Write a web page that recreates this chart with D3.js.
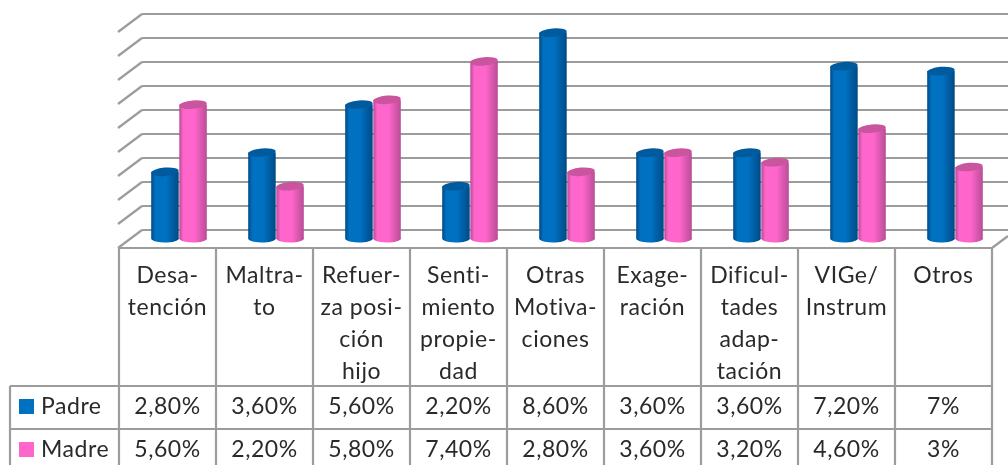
<!DOCTYPE html>
<html><head><meta charset="utf-8">
<script src="https://cdn.jsdelivr.net/npm/d3@7"></script>
<style>html,body{margin:0;padding:0;background:#fff;overflow:hidden}svg{display:block}text{font-family:Lato,"Open Sans",sans-serif;fill:#2a2a2a;letter-spacing:0.55px}</style>
</head><body><svg id="c" width="1008" height="465"></svg>
<script>
const categories=["Desa-|tención","Maltra-|to","Refuer-|za posi-|ción|hijo","Senti-|miento|propie-|dad","Otras|Motiva-|ciones","Exage-|ración","Dificul-|tades|adap-|tación","VIGe/|Instrum","Otros"];
const padre=[2.8,3.6,5.6,2.2,8.6,3.6,3.6,7.2,7];
const madre=[5.6,2.2,5.8,7.4,2.8,3.6,3.2,4.6,3];
const padreLabels=["2,80%","3,60%","5,60%","2,20%","8,60%","3,60%","3,60%","7,20%","7%"];
const madreLabels=["5,60%","2,20%","5,80%","7,40%","2,80%","3,60%","3,20%","4,60%","3%"];
const gridValues=[0,1,2,3,4,5,6,7,8,9];
const seriesNames=["Padre","Madre"];
const seriesColors=["#0070C0","#FF66CC"];
const seriesEdges=["#004a85","#b84c96"];
const seriesTops=["#005a9e","#c9549f"];

const svg=d3.select("#c");
const x=d3.scaleBand().domain(d3.range(categories.length)).range([119,992]);
const y=d3.scaleLinear().domain([0,9]).range([248,32]);
const depthX=24,depthY=18,grey="#9c9c9c";
const defs=svg.append("defs");
defs.append("filter").attr("id","soft").attr("x",0).attr("y",0).attr("width",1).attr("height",1)
  .append("feGaussianBlur").attr("stdDeviation",0.55);
seriesNames.forEach((n,i)=>{
  const g=defs.append("linearGradient").attr("id","g"+i);
  g.append("stop").attr("offset","0").attr("stop-color",seriesEdges[i]);
  g.append("stop").attr("offset","0.15").attr("stop-color",seriesColors[i]);
  g.append("stop").attr("offset","0.55").attr("stop-color",seriesColors[i]);
  g.append("stop").attr("offset","1").attr("stop-color",seriesEdges[i]);
});
const root=svg.append("g").attr("filter","url(#soft)");
root.append("rect").attr("width",1008).attr("height",465).attr("fill","#fff");
const line=(x1,y1,x2,y2,w)=>root.append("line").attr("x1",x1).attr("y1",y1).attr("x2",x2).attr("y2",y2).attr("stroke",grey).attr("stroke-width",w||2.2);
// gridlines
gridValues.forEach(v=>{
  line(x.range()[0]-1,y(v),x.range()[0]-1+depthX,y(v)-depthY);
  line(x.range()[0]-1+depthX,y(v)-depthY,1008,y(v)-depthY);
});
line(992,248,1008,236);
// bars
const barW=27.5,rx=barW/2,ry=4.2,offs=11.5;
function cyl(vals,k){
  const g=root.append("g");
  vals.forEach((v,i)=>{
    const xc=x(i)+x.bandwidth()/2+offs+(k===0?-barW/2-0.3:barW/2+0.3);
    const top=y(v)-9,base=y(0)-9;
    g.append("path").attr("fill",`url(#g${k})`)
     .attr("d",`M${xc-rx},${top}L${xc-rx},${base}A${rx},${ry} 0 0 0 ${xc+rx},${base-1.5}L${xc+rx},${top}Z`);
    g.append("ellipse").attr("cx",xc).attr("cy",top).attr("rx",rx).attr("ry",ry)
     .attr("transform",`rotate(-5 ${xc} ${top})`).attr("fill",seriesTops[k]);
  });
}
cyl(padre,0);cyl(madre,1);
// table
const rowTop=386,rowMid=429,tableBottom=465;
line(119,248,992,248);
x.domain().forEach(i=>line(x(i),248,x(i),tableBottom));
line(992,248,992,tableBottom);
line(10,rowTop,992,rowTop);
line(10,rowMid,992,rowMid);
line(10,rowTop,10,tableBottom);
const fs=23;
categories.forEach((c,i)=>{
  c.split("|").forEach((t,j)=>{
    root.append("text").attr("x",x(i)+x.bandwidth()/2).attr("y",283+j*32).attr("text-anchor","middle").attr("font-size",fs).text(t);
  });
});
[padreLabels,madreLabels].forEach((r,k)=>{
  const b=k===0?414:457;
  r.forEach((t,i)=>root.append("text").attr("x",x(i)+x.bandwidth()/2).attr("y",b).attr("text-anchor","middle").attr("font-size",fs).text(t));
  root.append("rect").attr("x",19).attr("y",b-15).attr("width",15).attr("height",15).attr("fill",seriesColors[k]);
  root.append("text").attr("x",41).attr("y",b).attr("font-size",fs).text(seriesNames[k]);
});
</script></body></html>
